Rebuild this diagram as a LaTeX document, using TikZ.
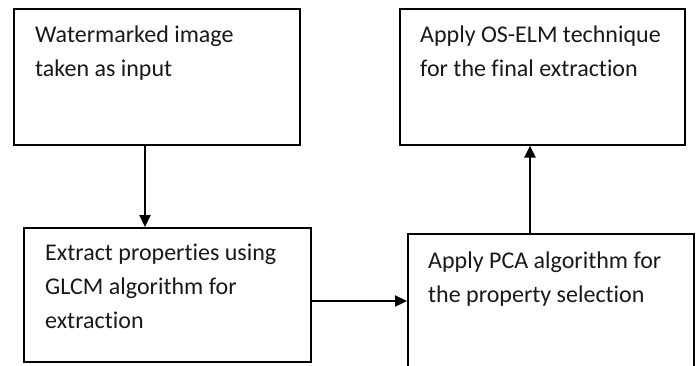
\documentclass[tikz,border=0pt]{standalone}
\usepackage{fontspec}
\setmainfont{Carlito}[Ligatures={NoCommon}]
\usetikzlibrary{arrows.meta,calc}
\newcommand\boxlines[1]{\begin{tabular}[t]{@{}l@{}}#1\end{tabular}}
\begin{document}
\begin{tikzpicture}[x=1pt,y=-1pt,
  stepbox/.style={draw=black,line width=1.6pt,rectangle,inner sep=0pt,anchor=north west},
  boxtext/.style={anchor=base west,inner sep=0pt,text=black!90,font=\fontsize{24}{34}\selectfont},
  arr/.style={line width=2.2pt,-{Triangle[length=12pt,width=11pt]}}]
\clip (0,0) rectangle (700,365);
\fill[white] (0,0) rectangle (700,365);
% boxes
\node[stepbox,minimum width=286pt,minimum height=136pt] (b1) at (13,8) {};
\node[stepbox,minimum width=287pt,minimum height=134pt] (b2) at (23,227) {};
\node[stepbox,minimum width=285pt,minimum height=136pt] (b3) at (399,8) {};
\node[stepbox,minimum width=286pt,minimum height=145pt] (b4) at (407,233) {};
% texts
\node[boxtext] (t1) at (35,42) {\boxlines{Watermarked image\\taken as input}};
\node[boxtext] (t2) at (45,260) {\boxlines{Extract properties using\\GLCM algorithm for\\extraction}};
\node[boxtext] (t3) at (420,42) {\boxlines{Apply OS-ELM technique\\for the final extraction}};
\node[boxtext] (t4) at (428,268) {\boxlines{Apply PCA algorithm for\\the property selection}};
% connector positions
\coordinate (c1) at (145,0);
\coordinate (c2) at (0,301);
\coordinate (c3) at (530,0);
\draw[arr] (b1.south -| c1) -- (b2.north -| c1);
\draw[arr] (b2.east |- c2) -- (b4.west |- c2);
\draw[arr] (b4.north -| c3) -- (b3.south -| c3);
\end{tikzpicture}
\end{document}
